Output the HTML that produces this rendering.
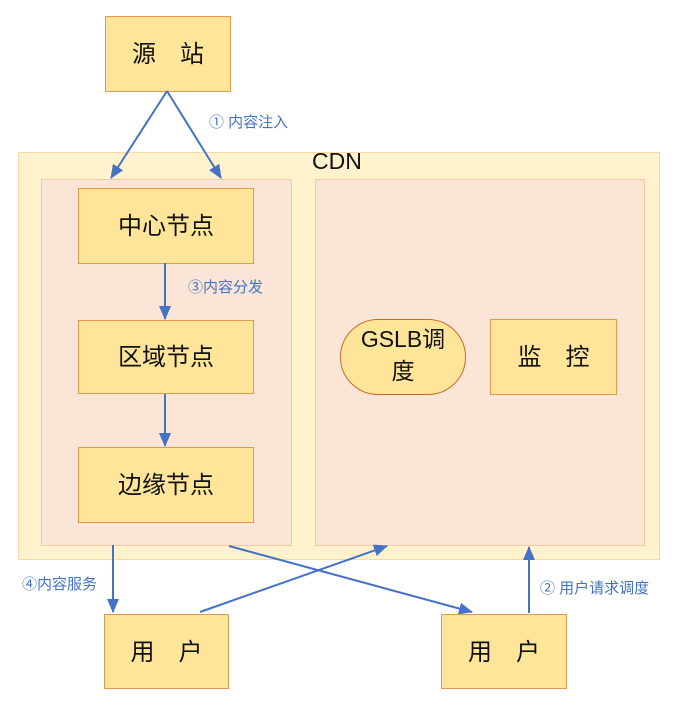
<!DOCTYPE html>
<html><head><meta charset="utf-8"><style>
html,body{margin:0;padding:0;background:#fff;}
body{width:683px;height:713px;position:relative;overflow:hidden;font-family:"Liberation Sans","Noto Sans CJK SC",sans-serif;}
.b{position:absolute;background:#ffe59a;border:1.5px solid #e39a4c;box-sizing:border-box;display:flex;align-items:center;justify-content:center;font-size:24px;color:#111;padding-bottom:5px;}
.l{position:absolute;color:#4472c4;font-size:15px;white-space:nowrap;}
</style></head><body>
<div style="position:absolute;left:18px;top:152px;width:642px;height:408px;background:#fff2cc;border:1px solid #fbd9a9;box-sizing:border-box"></div>
<div style="position:absolute;left:41px;top:179px;width:251px;height:367px;background:#fae5d6;border:1px solid #f6c9a3;box-sizing:border-box"></div>
<div style="position:absolute;left:315px;top:179px;width:330px;height:367px;background:#fae5d6;border:1px solid #f6c9a3;box-sizing:border-box"></div>
<div style="position:absolute;left:312px;top:148px;font-size:23px;color:#111">CDN</div>
<div class="b" style="left:105px;top:16px;width:126px;height:76px">源&emsp;站</div>
<div class="b" style="left:78px;top:188px;width:176px;height:76px">中心节点</div>
<div class="b" style="left:78px;top:320px;width:176px;height:74px">区域节点</div>
<div class="b" style="left:78px;top:447px;width:176px;height:76px">边缘节点</div>
<div class="b" style="left:340px;top:319px;width:126px;height:76px;border-radius:38px;border-color:#c96a2a;line-height:32px;text-align:center;font-size:23px">GSLB调<br>度</div>
<div class="b" style="left:490px;top:319px;width:127px;height:76px">监&emsp;控</div>
<div class="b" style="left:104px;top:614px;width:125px;height:75px">用&emsp;户</div>
<div class="b" style="left:441px;top:614px;width:126px;height:75px">用&emsp;户</div>
<svg width="683" height="713" style="position:absolute;left:0;top:0">
<defs><marker id="a2" markerWidth="14" markerHeight="12" refX="13" refY="6" orient="auto" markerUnits="userSpaceOnUse"><path d="M0,0L14,6L0,12z" fill="#4472c4"/></marker></defs>
<g stroke="#4472c4" stroke-width="2" fill="none" marker-end="url(#a2)">
<line x1="167" y1="91" x2="111" y2="178"/>
<line x1="167" y1="91" x2="221" y2="178"/>
<line x1="165" y1="263" x2="165" y2="319"/>
<line x1="165" y1="394" x2="165" y2="446"/>
<line x1="113" y1="545" x2="113" y2="612"/>
<line x1="200" y1="612" x2="387" y2="546"/>
<line x1="229" y1="546" x2="472" y2="612"/>
<line x1="529" y1="613" x2="529" y2="547"/>
</g></svg>
<div class="l" style="left:209px;top:111px">① 内容注入</div>
<div class="l" style="left:188px;top:276px">③内容分发</div>
<div class="l" style="left:22px;top:573px">④内容服务</div>
<div class="l" style="left:540px;top:577px">② 用户请求调度</div>
</body></html>
